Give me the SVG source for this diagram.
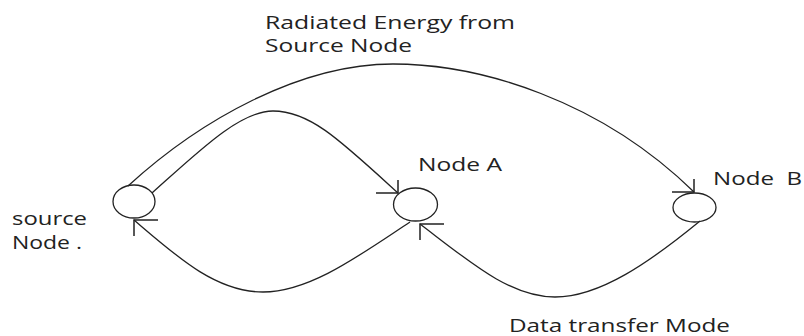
<svg xmlns="http://www.w3.org/2000/svg" width="804" height="336" viewBox="0 0 804 336">
  <style>
    .node { fill: none; stroke: #222; stroke-width: 1.3; }
    .edge { fill: none; stroke: #222; stroke-width: 1.3; }
    .lbl { font-family: "Open Sans", "Liberation Sans", sans-serif; font-size: 17.5px; fill: #222; }
  </style>
  <defs>
    <marker id="headDR" markerUnits="userSpaceOnUse" orient="0" markerWidth="30" markerHeight="20" refX="24" refY="14" viewBox="0 0 30 20" overflow="visible">
      <path d="M2,14 L24,14 L24,1" fill="none" stroke="#222" stroke-width="1.5"/>
    </marker>
    <marker id="headUL" markerUnits="userSpaceOnUse" orient="0" markerWidth="30" markerHeight="20" refX="2" refY="2" viewBox="0 0 30 20" overflow="visible">
      <path d="M26,2 L2,2 L2,18" fill="none" stroke="#222" stroke-width="1.5"/>
    </marker>
  </defs>
  <rect width="804" height="336" fill="#fff"/>

  <g id="connectors">
    <path id="radiated-B" class="edge" d="M128,186 C200,120 300,64 393,64 C480,64 600,100 694,192" marker-end="url(#headDR)"/>
    <path id="radiated-A" class="edge" d="M152,193 C200,150 240,111 273,111 C310,111 340,140 398,193" marker-end="url(#headDR)"/>
    <path id="data-A-source" class="edge" d="M410,222 C360,255 310,292 263,292 C215,292 175,255 134,220" marker-end="url(#headUL)"/>
    <path id="data-B-A" class="edge" d="M700,221 C650,262 600,297 555,297 C510,297 470,262 420,224" marker-end="url(#headUL)"/>
  </g>

  <g id="source-node">
    <ellipse class="node" cx="134" cy="201.5" rx="21" ry="16.5"/>
    <text class="lbl" x="12" y="225" textLength="75" lengthAdjust="spacingAndGlyphs">source</text>
    <text class="lbl" x="12" y="249" textLength="70" lengthAdjust="spacingAndGlyphs">Node .</text>
  </g>

  <g id="node-a">
    <ellipse class="node" cx="415.5" cy="204.5" rx="22" ry="16.5"/>
    <text class="lbl" x="418" y="171" textLength="84" lengthAdjust="spacingAndGlyphs">Node A</text>
  </g>

  <g id="node-b">
    <ellipse class="node" cx="694.5" cy="207.5" rx="21.5" ry="14.5"/>
    <text class="lbl" x="713" y="185" textLength="89" lengthAdjust="spacingAndGlyphs" style="white-space:pre" xml:space="preserve">Node  B</text>
  </g>

  <g id="labels">
    <text class="lbl" x="265" y="29" textLength="250" lengthAdjust="spacingAndGlyphs">Radiated Energy from</text>
    <text class="lbl" x="265" y="52" textLength="147" lengthAdjust="spacingAndGlyphs">Source Node</text>
    <text class="lbl" x="509" y="332" textLength="221" lengthAdjust="spacingAndGlyphs">Data transfer Mode</text>
  </g>
</svg>
